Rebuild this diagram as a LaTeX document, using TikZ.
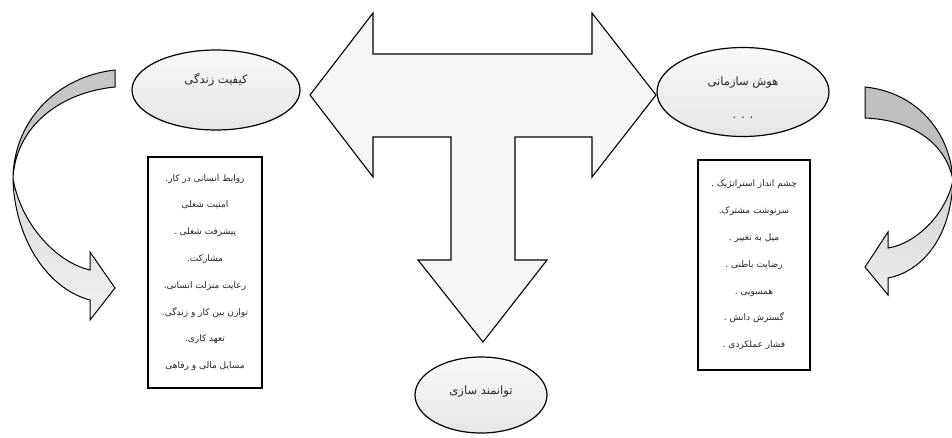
\documentclass[tikz,border=0pt]{standalone}
\usepackage{fontspec}
\newfontfamily\arabicfont[Script=Arabic]{DejaVu Sans}
\TeXXeTstate=1
\usetikzlibrary{shapes.geometric}

\tikzset{
  oval/.style={ellipse, draw, line width=1.2pt, inner sep=0pt, top color=gray!5, bottom color=gray!20},
  listbox/.style={draw, line width=2.6pt, fill=white, align=center, inner sep=0pt,
    text=black!85, font=\arabicfont\fontsize{9}{26.8}\selectfont},
  lbl/.style={text=black!85, font=\arabicfont\fontsize{11.5}{13}\selectfont},
  bigarrow/.style={draw, line width=1.1pt, fill=gray!7, line join=miter},
  ribbon/.style={draw, line width=1pt, line join=miter},
}

\begin{document}
\begin{tikzpicture}[x=1pt, y=-1pt]
\useasboundingbox (0,0) rectangle (952,437);

% T shaped arrow
\draw[bigarrow] (310,95) -- (373,13) -- (373,54) -- (592,54) -- (592,13) -- (656,95)
  -- (592,177) -- (592,137) -- (515,137) -- (515,260) -- (547,260) -- (483,342)
  -- (418,260) -- (451,260) -- (451,137) -- (373,137) -- (373,177) -- cycle;

% left curved arrow
\draw[ribbon, fill=gray!45] (115,70) .. controls (60,76) and (14,118) .. (13,178)
  .. controls (16,125) and (62,92) .. (115,87) -- cycle;
\draw[ribbon, top color=gray!28, bottom color=gray!12] (13,178) .. controls (14,235) and (45,288) .. (90,300)
  -- (90,320) -- (115,288) -- (90,252) -- (90,270)
  .. controls (55,262) and (20,222) .. (13,178) -- cycle;

% right curved arrow
\draw[ribbon, fill=gray!50] (865,87) .. controls (915,92) and (950,130) .. (953,180)
  .. controls (946,145) and (915,120) .. (865,118) -- cycle;
\draw[ribbon, top color=gray!35, bottom color=gray!15] (953,180) .. controls (951,240) and (920,272) .. (888,278)
  -- (888,295) -- (865,267) -- (888,232) -- (888,248)
  .. controls (915,244) and (946,215) .. (953,180) -- cycle;

% ellipses
\node[oval, minimum width=168pt, minimum height=80pt] (qol) at (216,90) {};
\node[lbl] at ([yshift=10pt]qol.center) {\beginR کیفیت زندگی\endR};

\node[oval, minimum width=172pt, minimum height=89pt] (org) at (743,92) {};
\node[lbl] at ([yshift=9pt]org.center) {\beginR هوش سازمانی\endR};
\node[lbl] at ([yshift=-26pt]org.center) {. . .};

\node[oval, minimum width=132pt, minimum height=76pt] (emp) at (481,395) {};
\node[lbl] at ([yshift=3pt]emp.center) {\beginR توانمند سازی\endR};

% list boxes
\node[listbox, minimum width=114pt, minimum height=231pt] (qolbox) at (205,272.5) {%
  \beginR روابط انسانی در کار.\endR\\
  \beginR امنیت شغلی\endR\\
  \beginR پیشرفت شغلی .\endR\\
  \beginR مشارکت.\endR\\
  \beginR رعایت منزلت انسانی.\endR\\
  \beginR توازن بین کار و زندگی.\endR\\
  \beginR تعهد کاری.\endR\\
  \beginR مسایل مالی و رفاهی\endR};

\node[listbox, minimum width=112pt, minimum height=210pt] (orgbox) at (754,265) {%
  \beginR چشم انداز استراتژیک .\endR\\
  \beginR سرنوشت مشترک.\endR\\
  \beginR میل به تغییر .\endR\\
  \beginR رضایت باطنی .\endR\\
  \beginR همسویی .\endR\\
  \beginR گسترش دانش .\endR\\
  \beginR فشار عملکردی .\endR};
\end{tikzpicture}
\end{document}
